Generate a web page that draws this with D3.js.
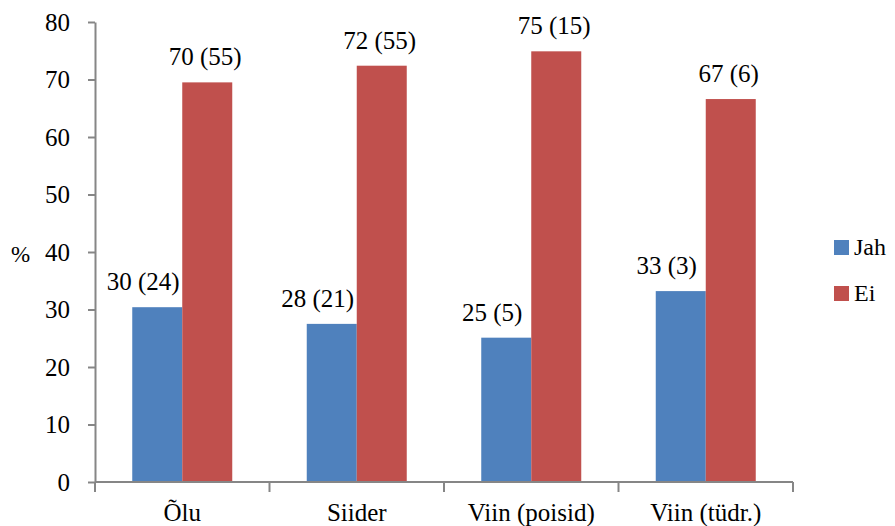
<!DOCTYPE html>
<html>
<head>
<meta charset="utf-8">
<script src="https://cdn.jsdelivr.net/npm/d3@7"></script>
<style>
  html, body { margin: 0; padding: 0; background: #fff; }
  svg { display: block; }
</style>
</head>
<body>
<svg id="chart" width="895" height="526"></svg>
<script>
const categories = ["Õlu", "Siider", "Viin (poisid)", "Viin (tüdr.)"];
const seriesNames = ["Jah", "Ei"];
const jahValues = [30.4, 27.5, 25.1, 33.2];
const eiValues = [69.5, 72.4, 74.9, 66.6];
const jahLabels = ["30 (24)", "28 (21)", "25 (5)", "33 (3)"];
const eiLabels = ["70 (55)", "72 (55)", "75 (15)", "67 (6)"];
const yTicks = [0, 10, 20, 30, 40, 50, 60, 70, 80];

const colors = { Jah: "#4F81BD", Ei: "#C0504D" };
const axisColor = "#868686";
const FONT = "'Liberation Serif', Tinos, 'Times New Roman', serif";
const fontSize = 25;

const svg = d3.select("#chart");
const plot = { left: 95, right: 793, top: 22, bottom: 482 };

const x0 = d3.scaleBand().domain(categories).range([plot.left, plot.right]).padding(0);
const barW = 50;
const po = (x0.bandwidth() / barW - seriesNames.length) / 2;
const x1 = d3.scaleBand().domain(seriesNames).range([0, x0.bandwidth()]).paddingInner(0).paddingOuter(po);
const y = d3.scaleLinear().domain([0, 80]).range([plot.bottom, plot.top]);

const data = categories.map((c, i) => ({
  cat: c,
  values: [
    { s: "Jah", v: jahValues[i], label: jahLabels[i] },
    { s: "Ei", v: eiValues[i], label: eiLabels[i] }
  ]
}));

// bars
const groups = svg.append("g").selectAll("g").data(data).join("g")
  .attr("transform", d => `translate(${x0(d.cat)},0)`);
groups.selectAll("rect").data(d => d.values).join("rect")
  .attr("x", d => x1(d.s))
  .attr("width", x1.bandwidth())
  .attr("y", d => y(d.v))
  .attr("height", d => y(0) - y(d.v))
  .attr("fill", d => colors[d.s]);

// data labels
const labelShift = { Jah: -14, Ei: -2 };
groups.selectAll("text.lbl").data(d => d.values).join("text")
  .attr("class", "lbl")
  .attr("x", d => x1(d.s) + x1.bandwidth() / 2 + labelShift[d.s])
  .attr("y", d => y(d.v) - 17)
  .attr("text-anchor", "middle")
  .style("font-family", FONT)
  .style("font-size", fontSize + "px")
  .style("fill", "#000")
  .text(d => d.label);

// y axis
const yAxis = svg.append("g")
  .attr("transform", `translate(${plot.left},0)`)
  .call(d3.axisLeft(y).tickValues(yTicks).tickSize(7).tickSizeOuter(0).tickPadding(18));
yAxis.attr("font-family", null).attr("font-size", null);
yAxis.select(".domain").attr("stroke", axisColor).attr("stroke-width", 2);
yAxis.selectAll(".tick line").attr("stroke", axisColor).attr("stroke-width", 2);
yAxis.selectAll(".tick text")
  .style("font-family", FONT)
  .style("font-size", fontSize + "px")
  .attr("fill", "#000");

// x axis
const xg = svg.append("g");
xg.append("line")
  .attr("x1", plot.left).attr("x2", plot.right)
  .attr("y1", y(0)).attr("y2", y(0))
  .attr("stroke", axisColor).attr("stroke-width", 2);
const boundaries = categories.map(c => x0(c)).concat([x0(categories[categories.length - 1]) + x0.bandwidth()]);
xg.selectAll("line.xt").data(boundaries).join("line")
  .attr("class", "xt")
  .attr("x1", d => d).attr("x2", d => d)
  .attr("y1", y(0)).attr("y2", y(0) + 10)
  .attr("stroke", axisColor).attr("stroke-width", 2);
xg.selectAll("text").data(categories).join("text")
  .attr("x", d => x0(d) + x0.bandwidth() / 2)
  .attr("y", 521)
  .attr("text-anchor", "middle")
  .style("font-family", FONT)
  .style("font-size", fontSize + "px")
  .style("fill", "#000")
  .text(d => d);

// y axis title
svg.append("text")
  .attr("x", 11).attr("y", 262)
  .style("font-family", FONT)
  .style("font-size", "23px")
  .style("fill", "#000")
  .text("%");

// legend
const legend = svg.append("g").selectAll("g").data(seriesNames).join("g")
  .attr("transform", (d, i) => `translate(834,${240 + i * 46})`);
legend.append("rect").attr("width", 15).attr("height", 15).attr("fill", d => colors[d]);
legend.append("text")
  .attr("x", 20).attr("y", 15)
  .style("font-family", FONT)
  .style("font-size", "24px")
  .style("fill", "#000")
  .text(d => d);
</script>
</body>
</html>
